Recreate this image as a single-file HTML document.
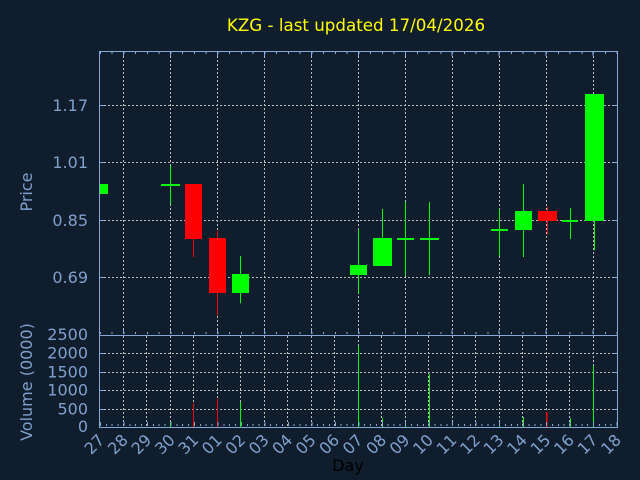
<!DOCTYPE html>
<html>
<head>
<meta charset="utf-8">
<style>
html,body{margin:0;padding:0;background:#101d2d;}
svg{display:block;}
text{font-family:"DejaVu Sans","Liberation Sans",sans-serif;}
</style>
</head>
<body>
<svg width="640" height="480" viewBox="0 0 640 480" xmlns="http://www.w3.org/2000/svg">
<rect x="0" y="0" width="640" height="480" fill="#101d2d"/>

<!-- Title -->
<text x="356" y="31" font-size="16.7" fill="#ffff00" text-anchor="middle">KZG - last updated 17/04/2026</text>

<!-- Grid: price panel -->
<g stroke="#bdbdbd" stroke-width="1" stroke-dasharray="2 2" shape-rendering="crispEdges">
  <line x1="100" y1="105.5" x2="617" y2="105.5"/>
  <line x1="100" y1="162.5" x2="617" y2="162.5"/>
  <line x1="100" y1="220.5" x2="617" y2="220.5"/>
  <line x1="100" y1="277.5" x2="617" y2="277.5"/>
  <line x1="123.5" y1="52" x2="123.5" y2="335"/>
  <line x1="170.5" y1="52" x2="170.5" y2="335"/>
  <line x1="217.5" y1="52" x2="217.5" y2="335"/>
  <line x1="264.5" y1="52" x2="264.5" y2="335"/>
  <line x1="311.5" y1="52" x2="311.5" y2="335"/>
  <line x1="358.5" y1="52" x2="358.5" y2="335"/>
  <line x1="405.5" y1="52" x2="405.5" y2="335"/>
  <line x1="452.5" y1="52" x2="452.5" y2="335"/>
  <line x1="499.5" y1="52" x2="499.5" y2="335"/>
  <line x1="546.5" y1="52" x2="546.5" y2="335"/>
  <line x1="593.5" y1="52" x2="593.5" y2="335"/>
</g>

<!-- Grid: volume panel -->
<g stroke="#bdbdbd" stroke-width="1" stroke-dasharray="2 2" shape-rendering="crispEdges">
  <line x1="100" y1="353.5" x2="617" y2="353.5"/>
  <line x1="100" y1="372.5" x2="617" y2="372.5"/>
  <line x1="100" y1="390.5" x2="617" y2="390.5"/>
  <line x1="100" y1="409.5" x2="617" y2="409.5"/>
  <line x1="123.5" y1="336" x2="123.5" y2="427"/>
  <line x1="146.5" y1="336" x2="146.5" y2="427"/>
  <line x1="170.5" y1="336" x2="170.5" y2="427"/>
  <line x1="193.5" y1="336" x2="193.5" y2="427"/>
  <line x1="217.5" y1="336" x2="217.5" y2="427"/>
  <line x1="240.5" y1="336" x2="240.5" y2="427"/>
  <line x1="264.5" y1="336" x2="264.5" y2="427"/>
  <line x1="287.5" y1="336" x2="287.5" y2="427"/>
  <line x1="311.5" y1="336" x2="311.5" y2="427"/>
  <line x1="334.5" y1="336" x2="334.5" y2="427"/>
  <line x1="358.5" y1="336" x2="358.5" y2="427"/>
  <line x1="381.5" y1="336" x2="381.5" y2="427"/>
  <line x1="405.5" y1="336" x2="405.5" y2="427"/>
  <line x1="428.5" y1="336" x2="428.5" y2="427"/>
  <line x1="452.5" y1="336" x2="452.5" y2="427"/>
  <line x1="475.5" y1="336" x2="475.5" y2="427"/>
  <line x1="499.5" y1="336" x2="499.5" y2="427"/>
  <line x1="522.5" y1="336" x2="522.5" y2="427"/>
  <line x1="546.5" y1="336" x2="546.5" y2="427"/>
  <line x1="569.5" y1="336" x2="569.5" y2="427"/>
  <line x1="593.5" y1="336" x2="593.5" y2="427"/>
</g>

<!-- Candles -->
<g shape-rendering="crispEdges">
  <!-- 27 -->
  <rect x="100" y="184" width="8" height="10" fill="#00ff00"/>
  <!-- 30 -->
  <rect x="170" y="166" width="1" height="38" fill="#00ff00"/>
  <rect x="161" y="184" width="19" height="2" fill="#00ff00"/>
  <!-- 31 -->
  <rect x="193" y="238" width="1" height="19" fill="#ff0000"/>
  <rect x="185" y="184" width="17" height="55" fill="#ff0000"/>
  <!-- 01 -->
  <rect x="217" y="231" width="1" height="84" fill="#ff0000"/>
  <rect x="209" y="238" width="17" height="55" fill="#ff0000"/>
  <!-- 02 -->
  <rect x="240" y="256" width="1" height="47" fill="#00ff00"/>
  <rect x="232" y="274" width="17" height="19" fill="#00ff00"/>
  <!-- 07 -->
  <rect x="358" y="229" width="1" height="64" fill="#00ff00"/>
  <rect x="350" y="265" width="17" height="10" fill="#00ff00"/>
  <!-- 08 -->
  <rect x="382" y="209" width="1" height="30" fill="#00ff00"/>
  <rect x="373" y="238" width="19" height="28" fill="#00ff00"/>
  <!-- 09 -->
  <rect x="405" y="202" width="1" height="74" fill="#00ff00"/>
  <rect x="397" y="238" width="17" height="2" fill="#00ff00"/>
  <!-- 10 -->
  <rect x="429" y="202" width="1" height="73" fill="#00ff00"/>
  <rect x="420" y="238" width="19" height="2" fill="#00ff00"/>
  <!-- 13 -->
  <rect x="499" y="209" width="1" height="47" fill="#00ff00"/>
  <rect x="491" y="229" width="17" height="2" fill="#00ff00"/>
  <!-- 14 -->
  <rect x="523" y="184" width="1" height="73" fill="#00ff00"/>
  <rect x="515" y="211" width="17" height="19" fill="#00ff00"/>
  <!-- 15 -->
  <rect x="547" y="207" width="1" height="27" fill="#ff0000"/>
  <rect x="538" y="211" width="19" height="10" fill="#ff0000"/>
  <!-- 16 -->
  <rect x="570" y="208" width="1" height="31" fill="#00ff00"/>
  <rect x="562" y="220" width="16" height="2" fill="#00ff00"/>
  <!-- 17 -->
  <rect x="594" y="210" width="1" height="40" fill="#00ff00"/>
  <rect x="585" y="94" width="19" height="127" fill="#00ff00"/>
</g>

<!-- Volume bars -->
<g shape-rendering="crispEdges">
  <rect x="170" y="422" width="1" height="5" fill="#00ff00"/>
  <rect x="193" y="403" width="1" height="24" fill="#ff0000"/>
  <rect x="217" y="399" width="1" height="28" fill="#ff0000"/>
  <rect x="240" y="402" width="1" height="25" fill="#00ff00"/>
  <rect x="358" y="346" width="1" height="81" fill="#00ff00"/>
  <rect x="382" y="418" width="1" height="9" fill="#00ff00"/>
  <rect x="405" y="425" width="1" height="2" fill="#00ff00"/>
  <rect x="429" y="374" width="1" height="53" fill="#00ff00"/>
  <rect x="499" y="425" width="1" height="2" fill="#00ff00"/>
  <rect x="523" y="417" width="1" height="10" fill="#00ff00"/>
  <rect x="546" y="412" width="1.5" height="15" fill="#ff0000"/>
  <rect x="570" y="418" width="1" height="9" fill="#00ff00"/>
  <rect x="593" y="366" width="1" height="61" fill="#00ff00"/>
</g>

<!-- Axes frame -->
<g stroke="#88a8d8" fill="none" stroke-width="1" shape-rendering="crispEdges">
  <rect x="99.5" y="51.5" width="518" height="376"/>
  <line x1="99.5" y1="335.5" x2="617.5" y2="335.5"/>
  <!-- left/right ticks price -->
  <path d="M100 105.5h4M100 162.5h4M100 220.5h4M100 277.5h4M613 105.5h4M613 162.5h4M613 220.5h4M613 277.5h4"/>
  <!-- left/right ticks volume -->
  <path d="M100 353.5h4M100 372.5h4M100 390.5h4M100 409.5h4M613 353.5h4M613 372.5h4M613 390.5h4M613 409.5h4"/>
  <!-- top ticks -->
  <line x1="100" y1="53" x2="617" y2="53" stroke-width="2" stroke-dasharray="1 10.74"/>
  <line x1="123" y1="54" x2="617" y2="54" stroke-width="4" stroke-dasharray="1 45.96"/>
  <!-- middle ticks (price bottom) -->
  <line x1="100" y1="333" x2="617" y2="333" stroke-width="2" stroke-dasharray="1 10.74"/>
  <line x1="123" y1="332" x2="617" y2="332" stroke-width="4" stroke-dasharray="1 45.96"/>
  <!-- bottom ticks (volume) -->
  <line x1="100" y1="425" x2="617" y2="425" stroke-width="2" stroke-dasharray="1 4.87"/>
  <line x1="100" y1="424" x2="617" y2="424" stroke-width="4" stroke-dasharray="1 22.48"/>
</g>

<!-- Y labels price -->
<g fill="#80a0cc" font-size="16" text-anchor="end">
  <text x="88" y="111">1.17</text>
  <text x="88" y="168">1.01</text>
  <text x="88" y="226">0.85</text>
  <text x="88" y="283">0.69</text>
</g>
<!-- Y labels volume -->
<g fill="#80a0cc" font-size="16" text-anchor="end">
  <text x="88" y="340">2500</text>
  <text x="88" y="358.5">2000</text>
  <text x="88" y="377.5">1500</text>
  <text x="88" y="395.5">1000</text>
  <text x="88" y="414.5">500</text>
  <text x="88" y="432">0</text>
</g>

<!-- Axis titles -->
<text transform="translate(32,192) rotate(-90)" fill="#80a0cc" font-size="16" text-anchor="middle">Price</text>
<text transform="translate(32,382) rotate(-90)" fill="#80a0cc" font-size="16" text-anchor="middle">Volume (0000)</text>
<text x="348" y="471" fill="#000000" font-size="16" text-anchor="middle">Day</text>

<!-- X labels -->
<g fill="#80a0cc" font-size="16" text-anchor="end">
  <text transform="translate(105.5,441) rotate(-45)">27</text>
  <text transform="translate(129,441) rotate(-45)">28</text>
  <text transform="translate(152.5,441) rotate(-45)">29</text>
  <text transform="translate(176,441) rotate(-45)">30</text>
  <text transform="translate(199.4,441) rotate(-45)">31</text>
  <text transform="translate(222.9,441) rotate(-45)">01</text>
  <text transform="translate(246.4,441) rotate(-45)">02</text>
  <text transform="translate(269.9,441) rotate(-45)">03</text>
  <text transform="translate(293.3,441) rotate(-45)">04</text>
  <text transform="translate(316.8,441) rotate(-45)">05</text>
  <text transform="translate(340.3,441) rotate(-45)">06</text>
  <text transform="translate(363.8,441) rotate(-45)">07</text>
  <text transform="translate(387.3,441) rotate(-45)">08</text>
  <text transform="translate(410.7,441) rotate(-45)">09</text>
  <text transform="translate(434.2,441) rotate(-45)">10</text>
  <text transform="translate(457.7,441) rotate(-45)">11</text>
  <text transform="translate(481.2,441) rotate(-45)">12</text>
  <text transform="translate(504.7,441) rotate(-45)">13</text>
  <text transform="translate(528.1,441) rotate(-45)">14</text>
  <text transform="translate(551.6,441) rotate(-45)">15</text>
  <text transform="translate(575.1,441) rotate(-45)">16</text>
  <text transform="translate(598.6,441) rotate(-45)">17</text>
  <text transform="translate(622.1,441) rotate(-45)">18</text>
</g>
</svg>
</body>
</html>
